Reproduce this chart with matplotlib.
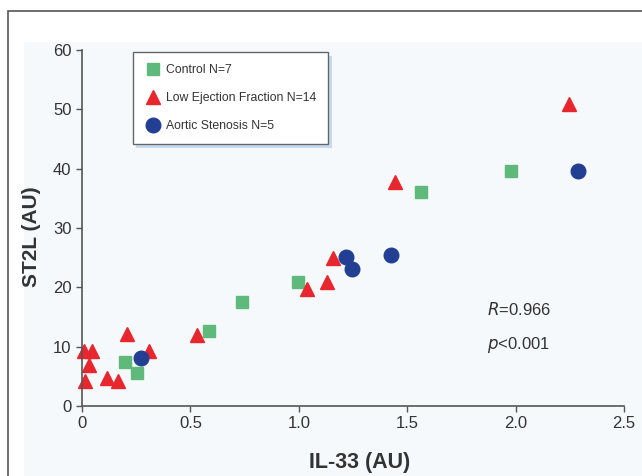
import matplotlib.pyplot as plt
from matplotlib.patches import Rectangle

# Control group (green squares)
control_x = [0.20, 0.255, 0.587, 0.737, 0.996, 1.564, 1.98]
control_y = [7.4, 5.6, 12.6, 17.6, 20.9, 36.1, 39.6]

# Low ejection fraction (red triangles)
lef_x = [0.014, 0.03, 0.01, 0.045, 0.114, 0.165, 0.209, 0.31, 0.529, 1.04, 1.16, 1.13, 1.445, 2.246]
lef_y = [4.2, 6.9, 9.2, 9.2, 4.8, 4.2, 12.1, 9.3, 11.9, 19.8, 24.9, 20.9, 37.7, 50.9]

# Aortic stenosis (blue circles)
as_x = [0.27, 1.22, 1.247, 1.425, 2.286]
as_y = [8.1, 25.1, 23.1, 25.4, 39.6]

x_ticks = [0, 0.5, 1.0, 1.5, 2.0, 2.5]
x_labels = ['0', '0.5', '1.0', '1.5', '2.0', '2.5']
y_ticks = [0, 10, 20, 30, 40, 50, 60]

plt.rcParams['font.family'] = ['Liberation Sans', 'DejaVu Sans']

fig = plt.figure(figsize=(6.42, 4.76), dpi=100, facecolor='white')

# outer white panel with a dark border, and a faint blue inner area
panel = Rectangle((8 / 642, -0.05), 1.1, 1 - 11 / 476 + 0.05, transform=fig.transFigure,
                  facecolor='white', edgecolor='#555555', linewidth=1.2, zorder=-10)
fig.patches.append(panel)
inner = Rectangle((24 / 642, -0.05), 1.1, 1 - 42 / 476 + 0.05, transform=fig.transFigure,
                  facecolor='#f5f9fc', edgecolor='none', zorder=-9)
fig.patches.append(inner)

ax = fig.add_axes([82 / 642, 1 - 406 / 476, 542 / 642, 356 / 476])
ax.set_facecolor('none')

ax.plot(control_x, control_y, linestyle='none', marker='s', markersize=8.5,
        color='#5fb97a', label='Control N=7', clip_on=False)
ax.plot(lef_x, lef_y, linestyle='none', marker='^', markersize=10.5,
        color='#e8262d', label='Low Ejection Fraction N=14', clip_on=False)
ax.plot(as_x, as_y, linestyle='none', marker='o', markersize=10.5,
        color='#233f94', label='Aortic Stenosis N=5', clip_on=False)

ax.set_xlim(0, 2.5)
ax.set_ylim(0, 60)
ax.set_xticks(x_ticks)
ax.set_xticklabels(x_labels)
ax.set_yticks(y_ticks)

for side in ['top', 'right']:
    ax.spines[side].set_visible(False)
for side in ['left', 'bottom']:
    ax.spines[side].set_color('#555555')
    ax.spines[side].set_linewidth(1.2)
ax.tick_params(colors='#555555', labelcolor='#333333', labelsize=12, length=4, width=1)

ax.set_xlabel('IL-33 (AU)', fontsize=15.5, fontweight='bold', color='#333333')
ax.xaxis.set_label_coords(0.513, -0.13)
ax.set_ylabel('ST2L (AU)', fontsize=15, fontweight='bold', color='#333333')
ax.yaxis.set_label_coords(-0.076, 0.475)

ax.text(1.87, 16.2, r'$\it{R}$=0.966', fontsize=12, color='#333333', va='center')
ax.text(1.87, 10.3, r'$\it{p}$<0.001', fontsize=12, color='#333333', va='center')

leg = ax.legend(loc='upper left', bbox_to_anchor=(0.094, 0.994), borderaxespad=0,
                fontsize=8.8, frameon=True, fancybox=False, labelspacing=1.3,
                borderpad=1.0, handletextpad=0.5, handlelength=1.2,
                edgecolor='#666666', facecolor='white',
                shadow={'ox': 2.5, 'oy': -2.5, 'facecolor': '#c6dcee', 'alpha': 1,
                        'edgecolor': 'none'})
leg.get_frame().set_linewidth(1.0)
for t in leg.get_texts():
    t.set_color('#333333')

fig.savefig('out.png', dpi=100, facecolor=fig.get_facecolor())
